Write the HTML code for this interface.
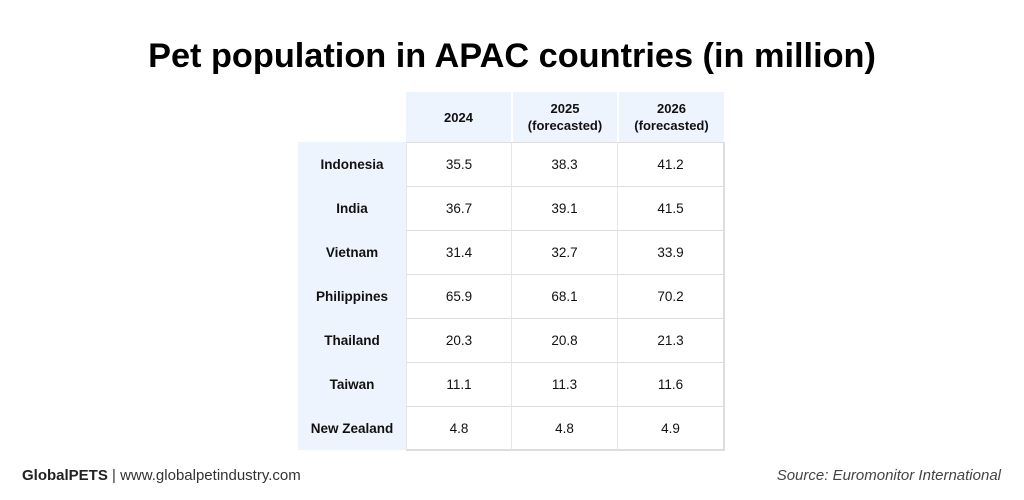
<!DOCTYPE html>
<html><head><style>
body{margin:0;width:1024px;height:500px;background:#fff;font-family:"Liberation Sans",sans-serif;position:relative;overflow:hidden}
.t{position:absolute;top:37px;left:0;width:1024px;text-align:center;font-size:34.3px;font-weight:bold;color:#000}
.c{position:absolute;display:flex;align-items:center;justify-content:center;text-align:center;font-size:13.5px;color:#111;box-sizing:border-box}
.h{background:#eef4fd;font-weight:bold;font-size:13px;line-height:17px}
.l{background:#eef4fd;font-weight:bold;font-size:13.5px}
.v{border-top:1px solid #ddd;border-right:1px solid #e6e6e6}
.f{position:absolute;top:467px;font-size:15px;color:#333}
</style></head><body>
<div class="t">Pet population in APAC countries (in million)</div>
<div class="c h" style="left:406px;top:92px;width:105px;height:50px">2024</div>
<div class="c h" style="left:513px;top:92px;width:104px;height:50px">2025<br>(forecasted)</div>
<div class="c h" style="left:619px;top:92px;width:105px;height:50px">2026<br>(forecasted)</div>
<div style="position:absolute;left:298px;top:142px;width:108px;height:308px;background:#eef4fd"></div>
<div style="position:absolute;left:406px;top:449px;width:319px;height:2px;background:#ddd"></div>
<div id="rows"></div>
<script>
var d=[["Indonesia","35.5","38.3","41.2"],["India","36.7","39.1","41.5"],["Vietnam","31.4","32.7","33.9"],["Philippines","65.9","68.1","70.2"],["Thailand","20.3","20.8","21.3"],["Taiwan","11.1","11.3","11.6"],["New Zealand","4.8","4.8","4.9"]];
var h="";
d.forEach(function(r,i){var y=142+i*44;
h+='<div class="c l" style="left:298px;top:'+y+'px;width:108px;height:44px">'+r[0]+'</div>';
for(var j=0;j<3;j++){h+='<div class="c v" style="left:'+(406+j*106)+'px;top:'+y+'px;width:106px;height:44px;'+(j==2?'width:107px;border-right:2px solid #ddd;':'')+(j==0?'border-left:1px solid #e6e6e6;':'')+'">'+r[j+1]+'</div>';}
});
document.getElementById("rows").innerHTML=h;
</script>
<div class="f" style="left:22px"><b style="color:#222">GlobalPETS</b> | www.globalpetindustry.com</div>
<div class="f" style="right:23px;font-style:italic;color:#444">Source: Euromonitor International</div>
</body></html>
